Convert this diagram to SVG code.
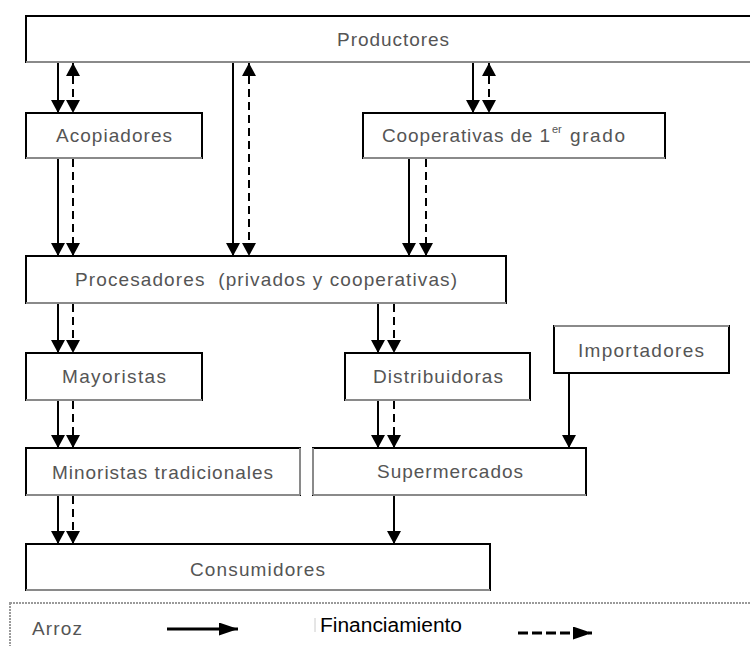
<svg xmlns="http://www.w3.org/2000/svg" width="750" height="646" viewBox="0 0 750 646">
  <style>
    .box { fill: #ffffff; stroke: #000000; stroke-width: 2; }
    .shade { stroke: #8a8a8a; stroke-width: 2; fill: none; }
    .lbl { font-family: "Liberation Sans", Arial, sans-serif; font-size: 19px; fill: #555555; white-space: pre; }
    .solid { stroke: #000000; stroke-width: 2; fill: none; marker-end: url(#head); }
    .dash { stroke: #000000; stroke-width: 2; fill: none; stroke-dasharray: 8 5; marker-end: url(#head); }
    .both { marker-start: url(#head); }
    .legend-box { fill: none; stroke: #9a9a9a; stroke-width: 2; stroke-dasharray: 2 1; }
  </style>
  <defs>
    <marker id="head" markerUnits="userSpaceOnUse" viewBox="0 0 13 14" markerWidth="13" markerHeight="14" refX="13" refY="7" orient="auto-start-reverse">
      <path d="M0,0 L13,7 L0,14 z" fill="#000000"/>
    </marker>
    <marker id="keyhead" markerUnits="userSpaceOnUse" viewBox="0 0 19 13" markerWidth="19" markerHeight="13" refX="19" refY="6.5" orient="auto">
      <path d="M0,0 L19,6.5 L0,13 z" fill="#000000"/>
    </marker>
  </defs>

  <rect width="750" height="646" fill="#ffffff"/>

  <!-- nodes -->
  <g id="productores">
    <rect class="box" x="26" y="16" width="730" height="46"/>
    <line class="shade" x1="26" y1="62" x2="756" y2="62"/>
    <text class="lbl" x="337" y="46" textLength="112" lengthAdjust="spacing">Productores</text>
  </g>
  <g id="acopiadores">
    <rect class="box" x="26" y="113" width="176" height="45"/>
    <line class="shade" x1="26" y1="158" x2="202" y2="158"/>
    <text class="lbl" x="56" y="142" textLength="116" lengthAdjust="spacing">Acopiadores</text>
  </g>
  <g id="cooperativas">
    <rect class="box" x="363" y="113" width="302" height="45"/>
    <line class="shade" x1="363" y1="158" x2="665" y2="158"/>
    <text class="lbl" x="382" y="142" textLength="168" lengthAdjust="spacing">Cooperativas de 1</text>
    <text class="lbl" x="552" y="133" style="font-size:11px">er</text>
    <text class="lbl" x="570" y="142" textLength="55" lengthAdjust="spacing">grado</text>
  </g>
  <g id="procesadores">
    <rect class="box" x="26" y="256" width="480" height="47"/>
    <line class="shade" x1="26" y1="303" x2="506" y2="303"/>
    <text class="lbl" x="75" y="286" textLength="382" lengthAdjust="spacing">Procesadores  (privados y cooperativas)</text>
  </g>
  <g id="mayoristas">
    <rect class="box" x="26" y="353" width="176" height="47"/>
    <line class="shade" x1="26" y1="400" x2="202" y2="400"/>
    <text class="lbl" x="62" y="383" textLength="104" lengthAdjust="spacing">Mayoristas</text>
  </g>
  <g id="distribuidoras">
    <rect class="box" x="345" y="353" width="185" height="47"/>
    <line class="shade" x1="345" y1="400" x2="530" y2="400"/>
    <text class="lbl" x="373" y="383" textLength="130" lengthAdjust="spacing">Distribuidoras</text>
  </g>
  <g id="importadores">
    <rect class="box" x="554" y="326" width="175" height="47"/>
    <line class="shade" x1="554" y1="326" x2="729" y2="326"/>
    <text class="lbl" x="578" y="357" textLength="126" lengthAdjust="spacing">Importadores</text>
  </g>
  <g id="minoristas">
    <rect class="box" x="26" y="448" width="274" height="47"/>
    <line class="shade" x1="26" y1="495" x2="300" y2="495"/>
    <line class="shade" x1="300" y1="448" x2="300" y2="495"/>
    <text class="lbl" x="52" y="479" textLength="221" lengthAdjust="spacing">Minoristas tradicionales</text>
  </g>
  <g id="supermercados">
    <rect class="box" x="313" y="448" width="273" height="47"/>
    <line class="shade" x1="313" y1="495" x2="586" y2="495"/>
    <line class="shade" x1="313" y1="448" x2="313" y2="495"/>
    <text class="lbl" x="377" y="478" textLength="146" lengthAdjust="spacing">Supermercados</text>
  </g>
  <g id="consumidores">
    <rect class="box" x="26" y="544" width="464" height="46"/>
    <line class="shade" x1="26" y1="590" x2="490" y2="590"/>
    <text class="lbl" x="190" y="576" textLength="135" lengthAdjust="spacing">Consumidores</text>
  </g>

  <!-- connectors: solid = rice flow, dashed = financing -->
  <g id="connectors">
    <line class="solid" x1="58" y1="63" x2="58" y2="113"/>
    <line class="dash both" x1="73" y1="63" x2="73" y2="113"/>
    <line class="solid" x1="233" y1="63" x2="233" y2="256"/>
    <line class="dash both" x1="249" y1="63" x2="249" y2="256"/>
    <line class="solid" x1="473" y1="63" x2="473" y2="113"/>
    <line class="dash both" x1="489" y1="63" x2="489" y2="113"/>

    <line class="solid" x1="58" y1="159" x2="58" y2="256"/>
    <line class="dash" x1="73" y1="159" x2="73" y2="256"/>
    <line class="solid" x1="409" y1="159" x2="409" y2="256"/>
    <line class="dash" x1="426" y1="159" x2="426" y2="256"/>

    <line class="solid" x1="58" y1="304" x2="58" y2="353"/>
    <line class="dash" x1="73" y1="304" x2="73" y2="353"/>
    <line class="solid" x1="378" y1="304" x2="378" y2="353"/>
    <line class="dash" x1="394" y1="304" x2="394" y2="353"/>

    <line class="solid" x1="58" y1="401" x2="58" y2="448"/>
    <line class="dash" x1="73" y1="401" x2="73" y2="448"/>
    <line class="solid" x1="378" y1="401" x2="378" y2="448"/>
    <line class="dash" x1="394" y1="401" x2="394" y2="448"/>
    <line class="solid" x1="569" y1="374" x2="569" y2="448"/>

    <line class="solid" x1="58" y1="496" x2="58" y2="544"/>
    <line class="dash" x1="73" y1="496" x2="73" y2="544"/>
    <line class="solid" x1="394" y1="496" x2="394" y2="544"/>
  </g>

  <!-- key -->
  <g id="legend">
    <rect class="legend-box" x="10" y="603" width="760" height="60"/>
    <text class="lbl" x="32" y="635" textLength="50" lengthAdjust="spacing">Arroz</text>
    <line x1="167" y1="629" x2="238" y2="629" stroke="#000000" stroke-width="3" marker-end="url(#keyhead)"/>
    <line x1="315" y1="618" x2="315" y2="632" stroke="#cccccc" stroke-width="1"/>
    <text x="320" y="632" font-family="'Liberation Sans', Arial, sans-serif" font-size="20" fill="#000000" textLength="142" lengthAdjust="spacingAndGlyphs">Financiamiento</text>
    <line x1="518" y1="633" x2="592" y2="633" stroke="#000000" stroke-width="3" stroke-dasharray="10 4" marker-end="url(#keyhead)"/>
  </g>
</svg>
